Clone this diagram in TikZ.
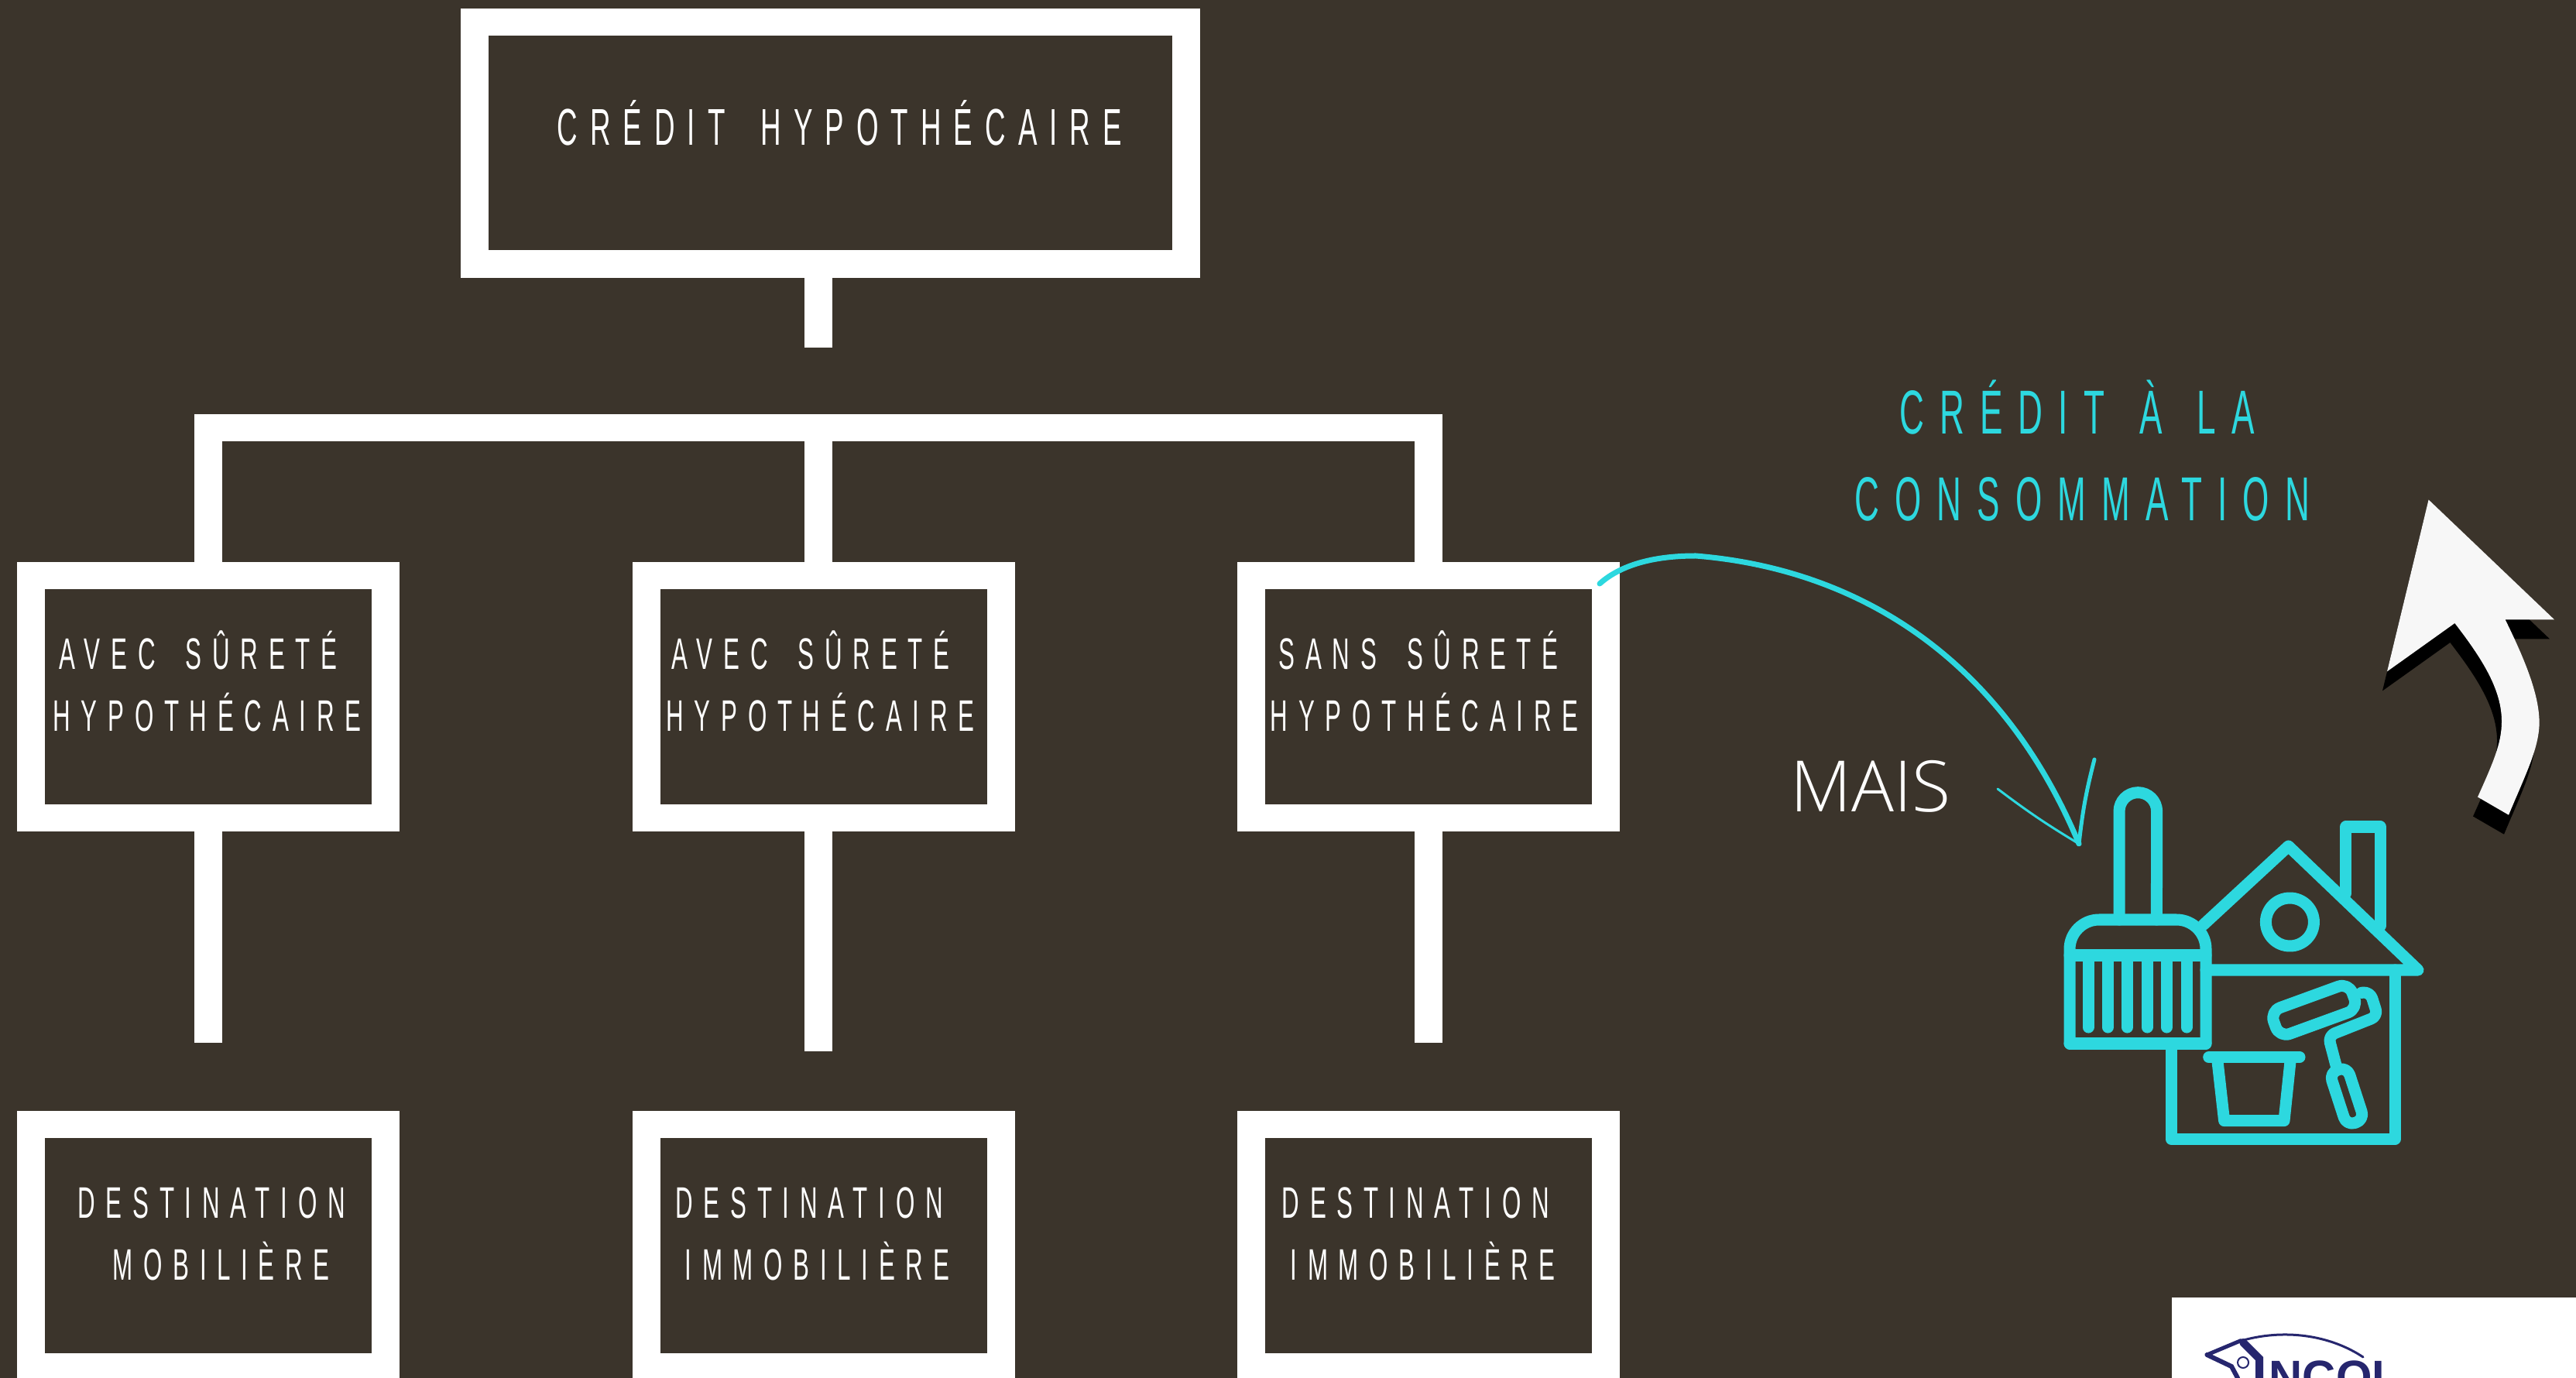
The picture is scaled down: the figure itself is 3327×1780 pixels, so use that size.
\documentclass[tikz,border=0pt]{standalone}
\usepackage{fontspec}
\setmainfont{Liberation Sans}
\newfontfamily\slimfont[FakeStretch=0.55,LetterSpace=24,WordSpace=1.75]{Liberation Sans}
\newfontfamily\slimwide[FakeStretch=0.55,LetterSpace=25,WordSpace=1.4]{Liberation Sans}
\newfontfamily\lightfont{Open Sans Light}
\definecolor{fond}{HTML}{3B342B}
\definecolor{turq}{HTML}{2DD8DF}
\definecolor{marine}{HTML}{26266E}
\tikzset{
  framebox/.style={draw=white,fill=fond,line width=0.355cm,inner sep=0,minimum height=3.125cm},
  stem/.style={draw=white,line width=0.355cm},
  boxtext/.style={text=white,anchor=base west,inner sep=0,font=\slimfont\fontsize{16.2}{18}\selectfont},
  turqtext/.style={text=turq,anchor=base west,inner sep=0,font=\slimwide\fontsize{22.8}{26}\selectfont},
  icon/.style={draw=turq,line width=0.15cm,line join=round,line cap=round},
  hand/.style={draw=turq,line cap=round},
  logoline/.style={draw=marine,line cap=round}
}
\begin{document}
\begin{tikzpicture}[x=0.01cm,y=0.01cm]
  \clip (0,0) rectangle (3327,-1780);
  \fill[fond] (0,0) rectangle (3327,-1780);

  % boxes
  \node[framebox,minimum width=9.18cm] (credit) at (1072.5,-184.7) {};
  \foreach \name/\xpos in {avecA/269,avecB/1064,sans/1845}{
    \node[framebox,minimum width=4.58cm] (\name) at (\xpos,-900) {};
  }
  \foreach \name/\xpos in {destA/269,destB/1064,destC/1845}{
    \node[framebox,minimum width=4.58cm] (\name) at (\xpos,-1609) {};
  }

  % stems
  \coordinate (creditend) at (1057,-449);
  \coordinate (barmid) at (1057,-552.5);
  \coordinate (endA) at (269,-1346.7);
  \coordinate (endB) at (1057,-1357.7);
  \coordinate (endC) at (1845,-1346.7);
  \draw[stem] (credit.south -| creditend) -- (creditend);
  \draw[stem] (avecA.north) |- (barmid) -| (sans.north);
  \draw[stem] (barmid) -- (avecB.north -| barmid);
  \draw[stem] (avecA.south) -- (endA);
  \draw[stem] (avecB.south -| endB) -- (endB);
  \draw[stem] (sans.south) -- (endC);

  % texts
  \node[boxtext,font=\slimfont\fontsize{19}{22}\selectfont] (tcredit) at (719,-188) {CRÉDIT HYPOTHÉCAIRE};
  \foreach \name/\xpos/\ypos/\txt in {
    ta/76/865/AVEC SÛRETÉ, tb/68/945/HYPOTHÉCAIRE,
    tc/867/865/AVEC SÛRETÉ, td/860/945/HYPOTHÉCAIRE,
    te/1651/865/SANS SÛRETÉ, tf/1640/945/HYPOTHÉCAIRE,
    tg/100/1573/DESTINATION, th/145/1653/MOBILIÈRE,
    ti/872/1573/DESTINATION, tj/884/1653/IMMOBILIÈRE,
    tk/1655/1573/DESTINATION, tl/1666/1653/IMMOBILIÈRE}{
    \node[boxtext] (\name) at (\xpos,-\ypos) {\txt};
  }
  \node[turqtext] (tconsoa) at (2453,-561) {CRÉDIT À LA};
  \node[turqtext] (tconsob) at (2395,-673) {CONSOMMATION};
  \node[anchor=base west,inner sep=0,text=white,font=\lightfont\fontsize{26}{30}\selectfont] (tmais) at (2312,-1049) {MAIS};

  % hand drawn arrow
  \coordinate (arctail) at (2066,-754);
  \coordinate (arcpeak) at (2190,-718);
  \coordinate (arctip) at (2685,-1090);
  \coordinate (barbA) at (2705,-981);
  \coordinate (barbB) at (2580,-1019);
  \draw[hand,line width=0.07cm] (arctail) .. controls (2095,-728) and (2140,-718) .. (arcpeak)
    .. controls (2400,-735) and (2585,-850) .. (arctip);
  \draw[hand,line width=0.05cm] (arctip) to[bend left=4] (barbA);
  \draw[hand,line width=0.03cm] (arctip) to[bend left=3] (barbB);

  % white arrow
  \foreach \couleur/\dx/\dy in {black/-6/-25,white!97!black/0/0}{
    \fill[\couleur,shift={(\dx,\dy)}] (3136.6,-645.5) -- (3299,-800.4) -- (3235.6,-800.4)
      .. controls (3265,-860) and (3279,-900) .. (3279.6,-932)
      .. controls (3280,-965) and (3262,-1000) .. (3240,-1052.7) -- (3200,-1029.5)
      .. controls (3220,-985) and (3231,-960) .. (3231,-932)
      .. controls (3231,-890) and (3205,-850) .. (3170.4,-805) -- (3083,-867.4) -- cycle;
  }

  % brush and house
  \draw[icon] (2737,-1188) -- (2737,-1048) arc[start angle=180,end angle=0,radius=24.3] -- (2785.4,-1188);
  \draw[icon,rounded corners=0.38cm] (2673,-1348) -- (2673,-1188) -- (2849,-1188) -- (2849,-1348);
  \draw[icon] (2673,-1348) -- (2849,-1348);
  \draw[icon] (2673,-1234) -- (2849,-1234);
  \foreach \xpos in {2697,2722.4,2747.4,2773,2798.4,2824}{
    \draw[icon] (\xpos,-1234) -- (\xpos,-1327);
  }
  \draw[icon] (2845.7,-1194.6) -- (2955.6,-1093) -- (3123,-1253) -- (2849,-1253);
  \draw[icon] (2804.4,-1348) -- (2804.4,-1471.5) -- (3093,-1471.5) -- (3093,-1253);
  \draw[icon] (3029.8,-1154) -- (3029.8,-1068) -- (3074,-1068) -- (3074,-1196);
  \draw[icon] (2957.4,-1191) circle [radius=31];
  \draw[icon] (2852.7,-1365.6) -- (2970,-1365.6);
  \draw[icon] (2864,-1371) -- (2872.6,-1447.6) -- (2950,-1447.6) -- (2958,-1371);
  \begin{scope}[shift={(2988.7,-1304.8)},rotate=20]
    \draw[icon,rounded corners=0.14cm] (-54,-18) rectangle (54,18);
  \end{scope}
  \draw[icon,rounded corners=0.09cm] (3049.7,-1282.4) -- (3061,-1281) -- (3071,-1312.6) -- (3007,-1338) -- (3017,-1376);
  \begin{scope}[shift={(3031,-1416)},rotate=-72]
    \draw[icon,rounded corners=0.11cm] (-36,-12) rectangle (36,12);
  \end{scope}

  % logo
  \fill[white] (2805,-1675.7) rectangle (3327,-1780);
  \draw[logoline,line width=0.03cm] (2890.8,-1733) .. controls (2950,-1715) and (3010,-1725) .. (3052,-1753);
  \draw[logoline,line width=0.05cm] (2850.4,-1750) -- (2894,-1731.7);
  \draw[logoline,line width=0.1cm] (2897,-1734) -- (2918,-1755) -- (2918,-1780);
  \draw[logoline,line width=0.06cm] (2850.4,-1750) -- (2882,-1765) -- (2890,-1780);
  \draw[logoline,line width=0.02cm] (2897,-1760) circle [radius=7];
  \node[anchor=base west,inner sep=0,text=marine,font=\bfseries\fontsize{17}{20}\selectfont] (tlogo) at (2930,-1799) {NCOI};
\end{tikzpicture}
\end{document}
